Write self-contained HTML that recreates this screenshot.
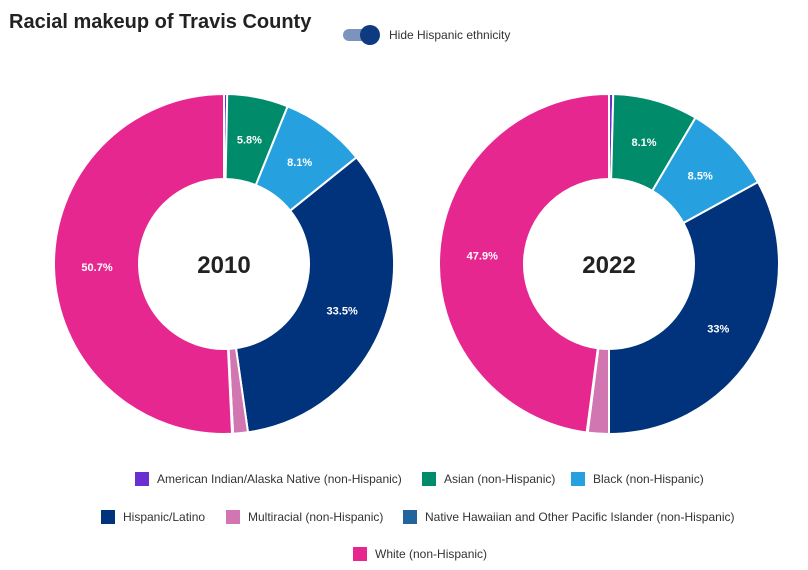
<!DOCTYPE html>
<html><head><meta charset="utf-8"><style>
body{margin:0;width:808px;height:570px;background:#fff;font-family:"Liberation Sans",sans-serif;overflow:hidden;position:relative}
.title{position:absolute;left:9px;top:11px;font-size:20px;font-weight:bold;color:#222}
.toggle{position:absolute;left:343px;top:25px;width:38px;height:20px}
.track{position:absolute;left:0;top:4px;width:36px;height:12px;border-radius:6px;background:#7b93bd}
.knob{position:absolute;left:17px;top:0;width:20px;height:20px;border-radius:50%;background:#0d3a80}
.tlabel{position:absolute;left:389px;top:28px;font-size:12px;color:#333}
.leg{position:absolute;font-size:12px;color:#333;white-space:nowrap;display:flex;align-items:center}
.sw{width:14px;height:14px;margin-right:8px;display:inline-block}
</style></head><body>
<div class="title">Racial makeup of Travis County</div>
<div class="toggle"><div class="track"></div><div class="knob"></div></div>
<div class="tlabel">Hide Hispanic ethnicity</div>
<svg id="chart" width="808" height="460" style="position:absolute;left:0;top:0"></svg>
<div id="legend"></div>
<script>
const categories=["American Indian/Alaska Native (non-Hispanic)","Asian (non-Hispanic)","Black (non-Hispanic)","Hispanic/Latino","Multiracial (non-Hispanic)","Native Hawaiian and Other Pacific Islander (non-Hispanic)","White (non-Hispanic)"];
const colors=["#6a2fd0","#008c6a","#27a0df","#00337c","#d176b0","#22659d","#e72790"];
const years=["2010","2022"];
const values2010=[0.3,5.8,8.1,33.5,1.4,0.1,50.7];
const values2022=[0.4,8.1,8.5,33,2.0,0.1,47.9];
const labels2010=["","5.8%","8.1%","33.5%","","","50.7%"];
const labels2022=["","8.1%","8.5%","33%","","","47.9%"];
const NS="http://www.w3.org/2000/svg";
const svg=document.getElementById('chart');
function draw(cx,cy,vals,labs,year){
  const R=170,r=85,tot=vals.reduce((a,b)=>a+b,0);let a0=0;
  vals.forEach((v,i)=>{
    const a1=a0+v/tot*2*Math.PI;
    const p=(a,rr)=>[cx+rr*Math.sin(a),cy-rr*Math.cos(a)];
    const [x1,y1]=p(a0,R),[x2,y2]=p(a1,R),[x3,y3]=p(a1,r),[x4,y4]=p(a0,r);
    const lg=(a1-a0)>Math.PI?1:0;
    const path=document.createElementNS(NS,'path');
    path.setAttribute('d',`M${x1},${y1}A${R},${R} 0 ${lg} 1 ${x2},${y2}L${x3},${y3}A${r},${r} 0 ${lg} 0 ${x4},${y4}Z`);
    path.setAttribute('fill',colors[i]);path.setAttribute('stroke','#fff');path.setAttribute('stroke-width','2');
    
    
    svg.appendChild(path);
    if(labs[i]){const [lx,ly]=p((a0+a1)/2,127);
      const t=document.createElementNS(NS,'text');t.setAttribute('x',lx);t.setAttribute('y',ly+4);
      t.setAttribute('text-anchor','middle');t.setAttribute('font-size','11');t.setAttribute('font-weight','bold');t.setAttribute('fill','#fff');
      t.textContent=labs[i];
      
      
      svg.appendChild(t);}
    a0=a1;});
  const t=document.createElementNS(NS,'text');t.setAttribute('x',cx);t.setAttribute('y',cy+9);t.setAttribute('text-anchor','middle');
  t.setAttribute('font-size','24');t.setAttribute('font-weight','bold');t.setAttribute('fill','#222');t.textContent=year;
  
  
  svg.appendChild(t);
}
draw(224,264,values2010,labels2010,years[0]);
draw(609,264,values2022,labels2022,years[1]);
const legPos=[[135,472],[422,472],[571,472],[101,510],[226,510],[403,510],[353,547]];
const lg=document.getElementById('legend');
categories.forEach((c,i)=>{
  const d=document.createElement('div');d.className='leg';d.style.left=legPos[i][0]+'px';d.style.top=legPos[i][1]+'px';
  d.innerHTML='<span class="sw" style="background:'+colors[i]+'"></span>'+c;
  
  
  lg.appendChild(d);});
</script>
</body></html>
